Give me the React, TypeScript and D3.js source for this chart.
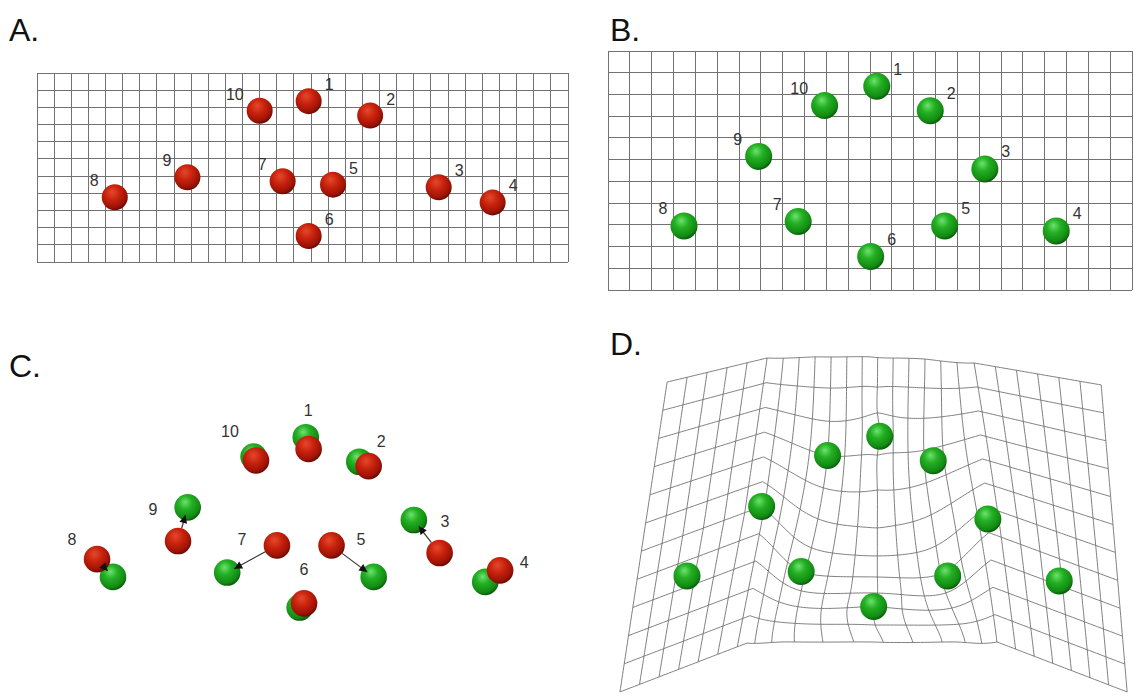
import { scaleLinear, range, line } from 'd3';

// landmark ids, same order in every panel
const ids = ['1', '2', '3', '4', '5', '6', '7', '8', '9', '10'];
const labelSide = ['r', 'r', 'r', 'r', 'r', 'r', 'l', 'l', 'l', 'l'];

// A. source configuration, in cells of the 31 x 11 grid
const sourceA: [number, number][] = [
  [15.86, 1.64], [19.45, 2.48], [23.45, 6.65], [26.6, 7.53], [17.28, 6.5],
  [15.86, 9.49], [14.34, 6.3], [4.54, 7.23], [8.78, 6.07], [13.0, 2.2],
];

// B. target configuration, in cells of the 24 x 11 grid (also used in C and D)
const targetB: [number, number][] = [
  [12.31, 1.62], [14.76, 2.75], [17.26, 5.43], [20.53, 8.28], [15.42, 8.05],
  [12.03, 9.46], [8.71, 7.85], [3.48, 8.05], [6.9, 4.85], [9.92, 2.51],
];

// C. source superimposed on target (same units as B)
const sourceC: [number, number][] = [
  [12.44, 2.16], [15.19, 2.95], [18.44, 6.95], [21.21, 7.75], [13.49, 6.6],
  [12.23, 9.27], [10.99, 6.6], [2.75, 7.23], [6.46, 6.4], [10.03, 2.69],
];
const labelC: [number, number][] = [
  [12.42, 0.37], [15.76, 1.8], [18.69, 5.52], [22.31, 7.41], [14.84, 6.35],
  [12.23, 7.73], [9.39, 6.31], [1.6, 6.31], [5.31, 4.97], [8.84, 1.38],
];

// D. warped grid (24 x 11 cells). [row, u, v] nodes of the outline and the two creases
const dLeftEdge = [[0, 2.57, -0.87], [11, 0.41, 13.39]];
const dLeftCrease = [[0, 7.15, -1.98], [6, 6.9, 4.85], [11, 6.23, 11.14]];
const dRightCrease = [[0, 16.63, -1.75], [6.5, 17.26, 5.43], [11, 17.68, 11.09]];
const dRightEdge = [[0, 22.45, -0.74], [11, 23.64, 13.39]];
const dCreaseCol = [[5, 6.5], [18, 17]]; // column index of each crease at top / bottom row
// [column, u, v] on the top and bottom rows between the creases
const dTopEdge = [[8, 9.35, -2.03], [11.5, 11.86, -2.03], [15, 14.38, -1.93]];
const dBottomEdge = [[8.5, 7.83, 11.09], [11.5, 11.82, 11.09], [14.5, 15.76, 11.09]];
// [row, u, v] along the middle column (column 12)
const dCenterColumn = [
  [1, 12.2, -0.64], [2, 12.2, 0.55], [3, 12.2, 2.49], [4, 12.2, 4.1], [5, 12.2, 5.84],
  [6, 12.2, 7.13], [7, 12.2, 8.1], [8, 12.2, 8.84], [10, 12.1, 10.31],
];
// grid [column, row] of the landmarks lying between the creases
const dLandmarkCell: ([number, number] | null)[] = [
  [12, 2.6], [15.5, 3.4], null, null, [15.3, 7.2],
  [12, 9], [8.8, 7], null, null, [9, 3],
];

const font = 'Liberation Sans, Arial, sans-serif';
const gridStroke = '#727272';

function fitTps(src: number[][], dst: number[][]) {
  const n = src.length;
  const m = n + 3;
  const K = (a: number[], b: number[]) => {
    const dx = a[0] - b[0];
    const dy = a[1] - b[1];
    const r2 = dx * dx + dy * dy;
    return r2 > 0 ? r2 * Math.log(r2) * 0.5 : 0;
  };
  const M: number[][] = [];
  for (let i = 0; i < n; i++) {
    const row: number[] = [];
    for (let j = 0; j < n; j++) row.push(K(src[i], src[j]));
    row.push(1, src[i][0], src[i][1]);
    M.push(row);
  }
  for (let k = 0; k < 3; k++) {
    const row: number[] = [];
    for (let j = 0; j < n; j++) row.push(k === 0 ? 1 : src[j][k - 1]);
    row.push(0, 0, 0);
    M.push(row);
  }
  const solve = (rhs: number[]) => {
    const A = M.map((r, i) => [...r, rhs[i]]);
    for (let c = 0; c < m; c++) {
      let p = c;
      for (let r = c + 1; r < m; r++) if (Math.abs(A[r][c]) > Math.abs(A[p][c])) p = r;
      [A[c], A[p]] = [A[p], A[c]];
      for (let r = 0; r < m; r++) {
        if (r === c) continue;
        const f = A[r][c] / A[c][c];
        if (f === 0) continue;
        for (let k = c; k <= m; k++) A[r][k] -= f * A[c][k];
      }
    }
    return A.map((r, i) => r[m] / r[i]);
  };
  const wx = solve([...dst.map((d) => d[0]), 0, 0, 0]);
  const wy = solve([...dst.map((d) => d[1]), 0, 0, 0]);
  return (s: number, t: number): [number, number] => {
    let x = wx[n] + wx[n + 1] * s + wx[n + 2] * t;
    let y = wy[n] + wy[n + 1] * s + wy[n + 2] * t;
    for (let i = 0; i < n; i++) {
      const k = K([s, t], src[i]);
      x += wx[i] * k;
      y += wy[i] * k;
    }
    return [x, y];
  };
}

const piecewise = (nodes: number[][]) => {
  const ts = nodes.map((d) => d[0]);
  const fu = scaleLinear().domain(ts).range(nodes.map((d) => d[1]));
  const fv = scaleLinear().domain(ts).range(nodes.map((d) => d[2]));
  return (t: number): [number, number] => [fu(t), fv(t)];
};

function buildWarp() {
  const leftEdge = piecewise(dLeftEdge);
  const leftCrease = piecewise(dLeftCrease);
  const rightCrease = piecewise(dRightCrease);
  const rightEdge = piecewise(dRightEdge);
  const sL = scaleLinear().domain([0, 11]).range(dCreaseCol[0]);
  const sR = scaleLinear().domain([0, 11]).range(dCreaseCol[1]);

  const src: number[][] = [];
  const dst: number[][] = [];
  range(0, 11.01, 0.5).forEach((t) => {
    src.push([sL(t), t]);
    dst.push(leftCrease(t));
    src.push([sR(t), t]);
    dst.push(rightCrease(t));
  });
  dTopEdge.forEach(([s, u, v]) => { src.push([s, 0]); dst.push([u, v]); });
  dBottomEdge.forEach(([s, u, v]) => { src.push([s, 11]); dst.push([u, v]); });
  dCenterColumn.forEach(([t, u, v]) => { src.push([12, t]); dst.push([u, v]); });
  dLandmarkCell.forEach((c, i) => {
    if (!c) return;
    src.push(c);
    dst.push(targetB[i]);
  });
  const tps = fitTps(src, dst);

  const warp = (s: number, t: number): [number, number] => {
    const sl = sL(t);
    const sr = sR(t);
    if (s <= sl) {
      const a = leftEdge(t);
      const b = leftCrease(t);
      const f = s / sl;
      return [a[0] + (b[0] - a[0]) * f, a[1] + (b[1] - a[1]) * f];
    }
    if (s >= sr) {
      const a = rightCrease(t);
      const b = rightEdge(t);
      const f = (s - sr) / (24 - sr);
      return [a[0] + (b[0] - a[0]) * f, a[1] + (b[1] - a[1]) * f];
    }
    return tps(s, t);
  };
  return { warp, sL, sR };
}

const Sphere = ({ x, y, r, fill }: { x: number; y: number; r: number; fill: string }) => (
  <circle cx={x} cy={y} r={r} fill={`url(#${fill})`} />
);

const NumLabel = ({ x, y, r, side, text }: any) => (
  <text
    x={side === 'r' ? x + r + 3 : x - r - 3}
    y={y - r + 2}
    textAnchor={side === 'r' ? 'start' : 'end'}
    fontSize={16}
    fill="#333"
  >
    {text}
  </text>
);

export default function App() {
  const ax = scaleLinear().domain([0, 31]).range([37, 568]);
  const ay = scaleLinear().domain([0, 11]).range([73, 262]);
  const bx = scaleLinear().domain([0, 24]).range([608, 1132]);
  const by = scaleLinear().domain([0, 11]).range([51, 290]);
  const cx = scaleLinear().domain([0, 24]).range([37, 561]);
  const cy = scaleLinear().domain([0, 11]).range([402, 641]);
  const dx = scaleLinear().domain([0, 24]).range([611, 1135]);
  const dy = scaleLinear().domain([0, 11]).range([401, 640]);

  const { warp, sL, sR } = buildWarp();
  const dLine = line<[number, number]>()
    .x((p) => dx(p[0]))
    .y((p) => dy(p[1]));

  const dRows = range(0, 12).map((t) => {
    const ss = [...range(0, 24.001, 0.125), sL(t), sR(t)].sort((a, b) => a - b);
    return dLine(ss.map((s) => warp(s, t)));
  });
  const dCols = range(0, 25).map((s) => {
    const extra = [sL.invert(s), sR.invert(s)].filter((t) => t > 0 && t < 11);
    const ts = [...range(0, 11.001, 0.125), ...extra].sort((a, b) => a - b);
    return dLine(ts.map((t) => warp(s, t)));
  });

  const rA = 13;
  const rB = 13.5;
  const rC = 13.3;
  const rD = 13.5;

  const arrows = sourceC
    .map((s, i) => {
      const x1 = cx(s[0]);
      const y1 = cy(s[1]);
      const x2 = cx(targetB[i][0]);
      const y2 = cy(targetB[i][1]);
      const d = Math.hypot(x2 - x1, y2 - y1);
      if (d < 20) return null;
      const ux = (x2 - x1) / d;
      const uy = (y2 - y1) / d;
      return { x1: x1 + ux * rC, y1: y1 + uy * rC, x2: x2 - ux * 8, y2: y2 - uy * 8, id: ids[i] };
    })
    .filter(Boolean) as any[];

  return (
    <svg
      width={1134}
      height={695}
      style={{ position: 'absolute', left: 0, top: 0, background: '#fff', fontFamily: font }}
    >
      <defs>
        <radialGradient id="redBall" cx="42%" cy="36%" r="64%" fx="40%" fy="30%">
          <stop offset="0%" stopColor="#e4492c" />
          <stop offset="45%" stopColor="#c8220d" />
          <stop offset="85%" stopColor="#9c1206" />
          <stop offset="100%" stopColor="#6a0a03" />
        </radialGradient>
        <radialGradient id="greenBall" cx="42%" cy="36%" r="64%" fx="40%" fy="30%">
          <stop offset="0%" stopColor="#6ee26e" />
          <stop offset="40%" stopColor="#24b024" />
          <stop offset="85%" stopColor="#128a12" />
          <stop offset="100%" stopColor="#0a5c0a" />
        </radialGradient>
        <marker
          id="arrowHead"
          viewBox="0 0 10 10"
          refX={10}
          refY={5}
          markerWidth={10}
          markerHeight={8}
          markerUnits="userSpaceOnUse"
          orient="auto"
        >
          <path d="M0,0 L10,5 L0,10 z" fill="#111" />
        </marker>
      </defs>

      {/* panel letters */}
      <g fontSize={32} fill="#111">
        <text x={9} y={41}>A.</text>
        <text x={610} y={41}>B.</text>
        <text x={9} y={377}>C.</text>
        <text x={610} y={355}>D.</text>
      </g>

      {/* A */}
      <g stroke={gridStroke} strokeWidth={1} shapeRendering="crispEdges">
        {range(0, 32).map((i) => (
          <line key={'av' + i} x1={ax(i)} x2={ax(i)} y1={ay(0)} y2={ay(11)} />
        ))}
        {range(0, 12).map((j) => (
          <line key={'ah' + j} x1={ax(0)} x2={ax(31)} y1={ay(j)} y2={ay(j)} />
        ))}
      </g>
      {sourceA.map((p, i) => (
        <g key={'a' + i}>
          <Sphere x={ax(p[0])} y={ay(p[1])} r={rA} fill="redBall" />
          <NumLabel x={ax(p[0])} y={ay(p[1])} r={rA} side={labelSide[i]} text={ids[i]} />
        </g>
      ))}

      {/* B */}
      <g stroke={gridStroke} strokeWidth={1} shapeRendering="crispEdges">
        {range(0, 25).map((i) => (
          <line key={'bv' + i} x1={bx(i)} x2={bx(i)} y1={by(0)} y2={by(11)} />
        ))}
        {range(0, 12).map((j) => (
          <line key={'bh' + j} x1={bx(0)} x2={bx(24)} y1={by(j)} y2={by(j)} />
        ))}
      </g>
      {targetB.map((p, i) => (
        <g key={'b' + i}>
          <Sphere x={bx(p[0])} y={by(p[1])} r={rB} fill="greenBall" />
          <NumLabel x={bx(p[0])} y={by(p[1])} r={rB} side={labelSide[i]} text={ids[i]} />
        </g>
      ))}

      {/* C */}
      {targetB.map((p, i) => (
        <Sphere key={'cg' + i} x={cx(p[0])} y={cy(p[1])} r={rC} fill="greenBall" />
      ))}
      {sourceC.map((p, i) => (
        <Sphere key={'cr' + i} x={cx(p[0])} y={cy(p[1])} r={rC} fill="redBall" />
      ))}
      {arrows.map((a) => (
        <line
          key={'arr' + a.id}
          x1={a.x1}
          y1={a.y1}
          x2={a.x2}
          y2={a.y2}
          stroke="#333"
          strokeWidth={1.2}
          markerEnd="url(#arrowHead)"
        />
      ))}
      {labelC.map((p, i) => (
        <text
          key={'cl' + i}
          x={cx(p[0])}
          y={cy(p[1])}
          textAnchor="middle"
          dominantBaseline="central"
          fontSize={16}
          fill="#333"
        >
          {ids[i]}
        </text>
      ))}

      {/* D */}
      <g fill="none" stroke={gridStroke} strokeWidth={0.9}>
        {dRows.map((d, i) => (
          <path key={'dr' + i} d={d || ''} />
        ))}
        {dCols.map((d, i) => (
          <path key={'dc' + i} d={d || ''} />
        ))}
      </g>
      {targetB.map((p, i) => (
        <Sphere key={'d' + i} x={dx(p[0])} y={dy(p[1])} r={rD} fill="greenBall" />
      ))}
    </svg>
  );
}
